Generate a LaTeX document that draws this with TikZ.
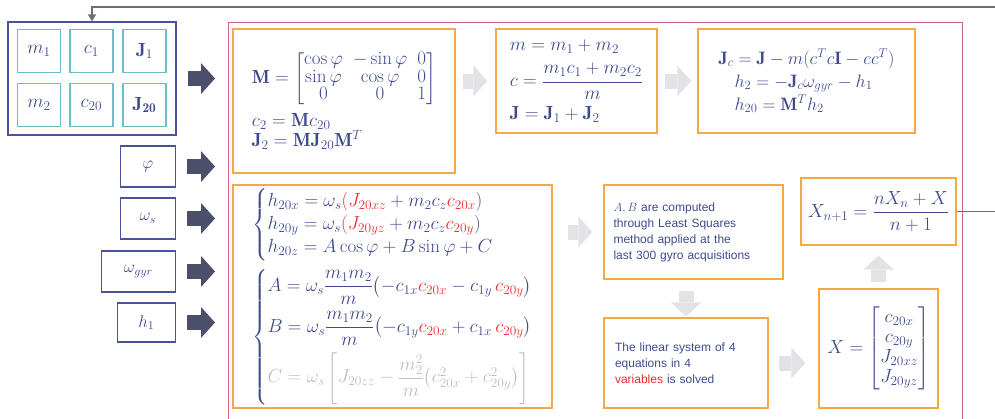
\RequirePackage{fix-cm}
\documentclass[tikz,border=0pt]{standalone}
\usepackage{amsmath}
\usepackage{fontspec}
\newfontfamily\arialfont{Liberation Sans}
\usetikzlibrary{arrows.meta,positioning,calc}
\definecolor{ink}{HTML}{3F4A8E}
\definecolor{navy}{HTML}{4A5299}
\definecolor{teal}{HTML}{6CBFC8}
\definecolor{orng}{HTML}{F7A846}
\definecolor{framepink}{HTML}{D35C9C}
\definecolor{slate}{HTML}{4B4F69}
\definecolor{mist}{HTML}{E2E2E7}
\definecolor{hot}{HTML}{EE2B2E}
\definecolor{ghost}{HTML}{BDBDBD}
\definecolor{wire}{HTML}{6E6E73}
\tikzset{
  cell/.style={draw=teal, line width=1.2pt, minimum size=43pt, inner sep=0pt, text=ink, font=\fontsize{19}{22}\selectfont},
  group/.style={draw=navy, line width=1.3pt, minimum width=168pt, minimum height=113pt},
  inbox/.style={draw=navy, line width=1.3pt, minimum height=41pt, inner sep=0pt, text=ink, font=\fontsize{17}{20}\selectfont, anchor=east},
  eqbox/.style={draw=orng, line width=1.4pt, inner sep=0pt, text=ink, font=\fontsize{19}{20}\selectfont, align=left},
  txtbox/.style={draw=orng, line width=1.4pt, inner sep=0pt, text=ink, font=\arialfont\fontsize{12}{16}\selectfont, align=left},
  pinkframe/.style={draw=framepink, line width=1.4pt, inner sep=0pt},
  fat/.style={line width=15pt, -{Triangle[length=14pt, width=31pt, line width=0pt]}},
  fatdark/.style={fat, slate},
  fatlight/.style={fat, mist},
  feedback/.style={wire, line width=1.8pt, -{Triangle[length=7pt, width=8pt]}},
}
\begin{document}
\begin{tikzpicture}[x=1pt, y=-1pt]
  \useasboundingbox (0,0) rectangle (995,418);
  % parameter group
  \node[group] (params) at (92,78.5) {};
  \foreach \name/\lab/\cx/\cy in {m1/m_1/39/51, c1/c_1/91.5/51, J1/\mathbf{J}_1/144.5/51,
                                  m2/m_2/39/105, c20/c_{20}/91.5/105, J20/\mathbf{J_{20}}/144.5/105}
    \node[cell] (\name) at (\cx,\cy) {$\lab$};

  % measured inputs
  \node[inbox, minimum width=55pt] (phi) at (176,166.5) {$\varphi$};
  \node[inbox, minimum width=55pt] (ws) at (176,218.5) {$\omega_s$};
  \node[inbox, minimum width=74pt] (wgyr) at (176,271.5) {$\omega_{gyr}$};
  \node[inbox, minimum width=58pt, minimum height=39pt] (h1) at (176,322.5) {$h_1$};

  % estimator frame
  \node[pinkframe, anchor=north west, minimum width=734pt, minimum height=430pt] (frame) at (228,22) {};

  % top row
  \node[eqbox, minimum width=222pt, minimum height=144pt] (rot) at (344,101)
    {\def\arraystretch{0.85}%
     $\mathbf{M} = \begin{bmatrix} \cos\varphi & -\sin\varphi & 0\\ \sin\varphi & \cos\varphi & 0\\ 0 & 0 & 1\end{bmatrix}$\\[8pt]
     $c_2 = \mathbf{M}c_{20}$\\
     $\mathbf{J}_2 = \mathbf{M}\mathbf{J}_{20}\mathbf{M}^T$};
  \node[eqbox, minimum width=161pt, minimum height=104pt] (mass) at (576.5,81)
    {$m = m_1 + m_2$\\[9pt]
     $c = \dfrac{m_1c_1 + m_2c_2}{m}$\\[6pt]
     $\mathbf{J} = \mathbf{J}_1 + \mathbf{J}_2$};
  \node[eqbox, font=\fontsize{18}{22}\selectfont, minimum width=217pt, minimum height=104pt] (inertia) at (806.5,81)
    {$\mathbf{J}_c = \mathbf{J} - m(c^Tc\mathbf{I} - cc^T)$\\[1pt]
     \hspace*{16pt}$h_2 = -\mathbf{J}_c\omega_{gyr} - h_1$\\[1pt]
     \hspace*{16pt}$h_{20} = \mathbf{M}^T h_2$};

  % model equations
  \node[eqbox, font=\fontsize{19}{23}\selectfont, minimum width=319pt, minimum height=223pt] (eqs) at (392.5,296.5)
    {$\left\{\begin{array}{@{}l@{}}
       h_{20x} = \omega_s\textcolor{hot}{(J_{20xz}} + m_2c_z\textcolor{hot}{c_{20x}})\\
       h_{20y} = \omega_s\textcolor{hot}{(J_{20yz}} + m_2c_z\textcolor{hot}{c_{20y}})\\
       h_{20z} = A\cos\varphi + B\sin\varphi + C
     \end{array}\right.$\\[8pt]
     $\left\{\begin{array}{@{}l@{}}
       A = \omega_s\dfrac{m_1m_2}{m}\bigl(-c_{1x}\textcolor{hot}{c_{20x}} -c_{1y}\,\textcolor{hot}{c_{20y}}\bigr)\\[13pt]
       B = \omega_s\dfrac{m_1m_2}{m}\bigl(-c_{1y}\textcolor{hot}{c_{20x}} +c_{1x}\,\textcolor{hot}{c_{20y}}\bigr)\\[13pt]
       \textcolor{ghost}{C = \omega_s\left[J_{20zz} - \dfrac{m_2^2}{m}\bigl(c_{20x}^2 + c_{20y}^2\bigr)\right]}
     \end{array}\right.$};

  % solution steps
  \node[txtbox, text width=160pt, minimum width=179pt, minimum height=94pt] (lsq) at (693.5,232)
    {$A, B$ are computed\\ through Least Squares\\ method applied at the\\ last 300 gyro acquisitions};
  \node[txtbox, text width=142pt, minimum width=164pt, minimum height=90pt] (linsys) at (686,363)
    {The linear system of 4\\ equations in 4\\ \textcolor{hot}{variables} is solved};
  \node[eqbox, minimum width=119pt, minimum height=119pt] (state) at (878.5,348.5)
    {$X = \begin{bmatrix} c_{20x}\\ c_{20y}\\ J_{20xz}\\ J_{20yz}\end{bmatrix}$};
  \node[eqbox, minimum width=155pt, minimum height=67pt] (xnext) at (878.5,211.5)
    {$X_{n+1} = \dfrac{nX_n + X}{n+1}$};

  % block arrows
  \draw[fatdark, shorten <=11pt, shorten >=13pt] (params.east) -- (params.east -| frame.west);
  \foreach \src in {phi, ws, wgyr, h1}
    \draw[fatdark, shorten <=11pt, shorten >=13pt] (\src.east) -- (\src.east -| frame.west);
  \draw[fatlight, shorten <=7pt, shorten >=8pt] (mass.west -| rot.east) -- (mass.west);
  \draw[fatlight, shorten <=7pt, shorten >=6pt] (mass.east) -- (inertia.west);
  \draw[fatlight, shorten <=15pt, shorten >=11pt] (lsq.west -| eqs.east) -- (lsq.west);
  \draw[fatlight, shorten <=11pt, shorten >=1pt] (linsys.north |- lsq.south) -- (linsys.north);
  \draw[fatlight, shorten <=10pt, shorten >=13pt] (linsys.east) -- (linsys.east -| state.west);
  \draw[fatlight, shorten <=6pt, shorten >=10pt] (state.north) -- (xnext.south);

  % feedback of the estimate
  \coordinate (fbturn) at (1010,7);
  \draw[feedback] (xnext.east) -| (fbturn) -| (params.north);
\end{tikzpicture}
\end{document}
